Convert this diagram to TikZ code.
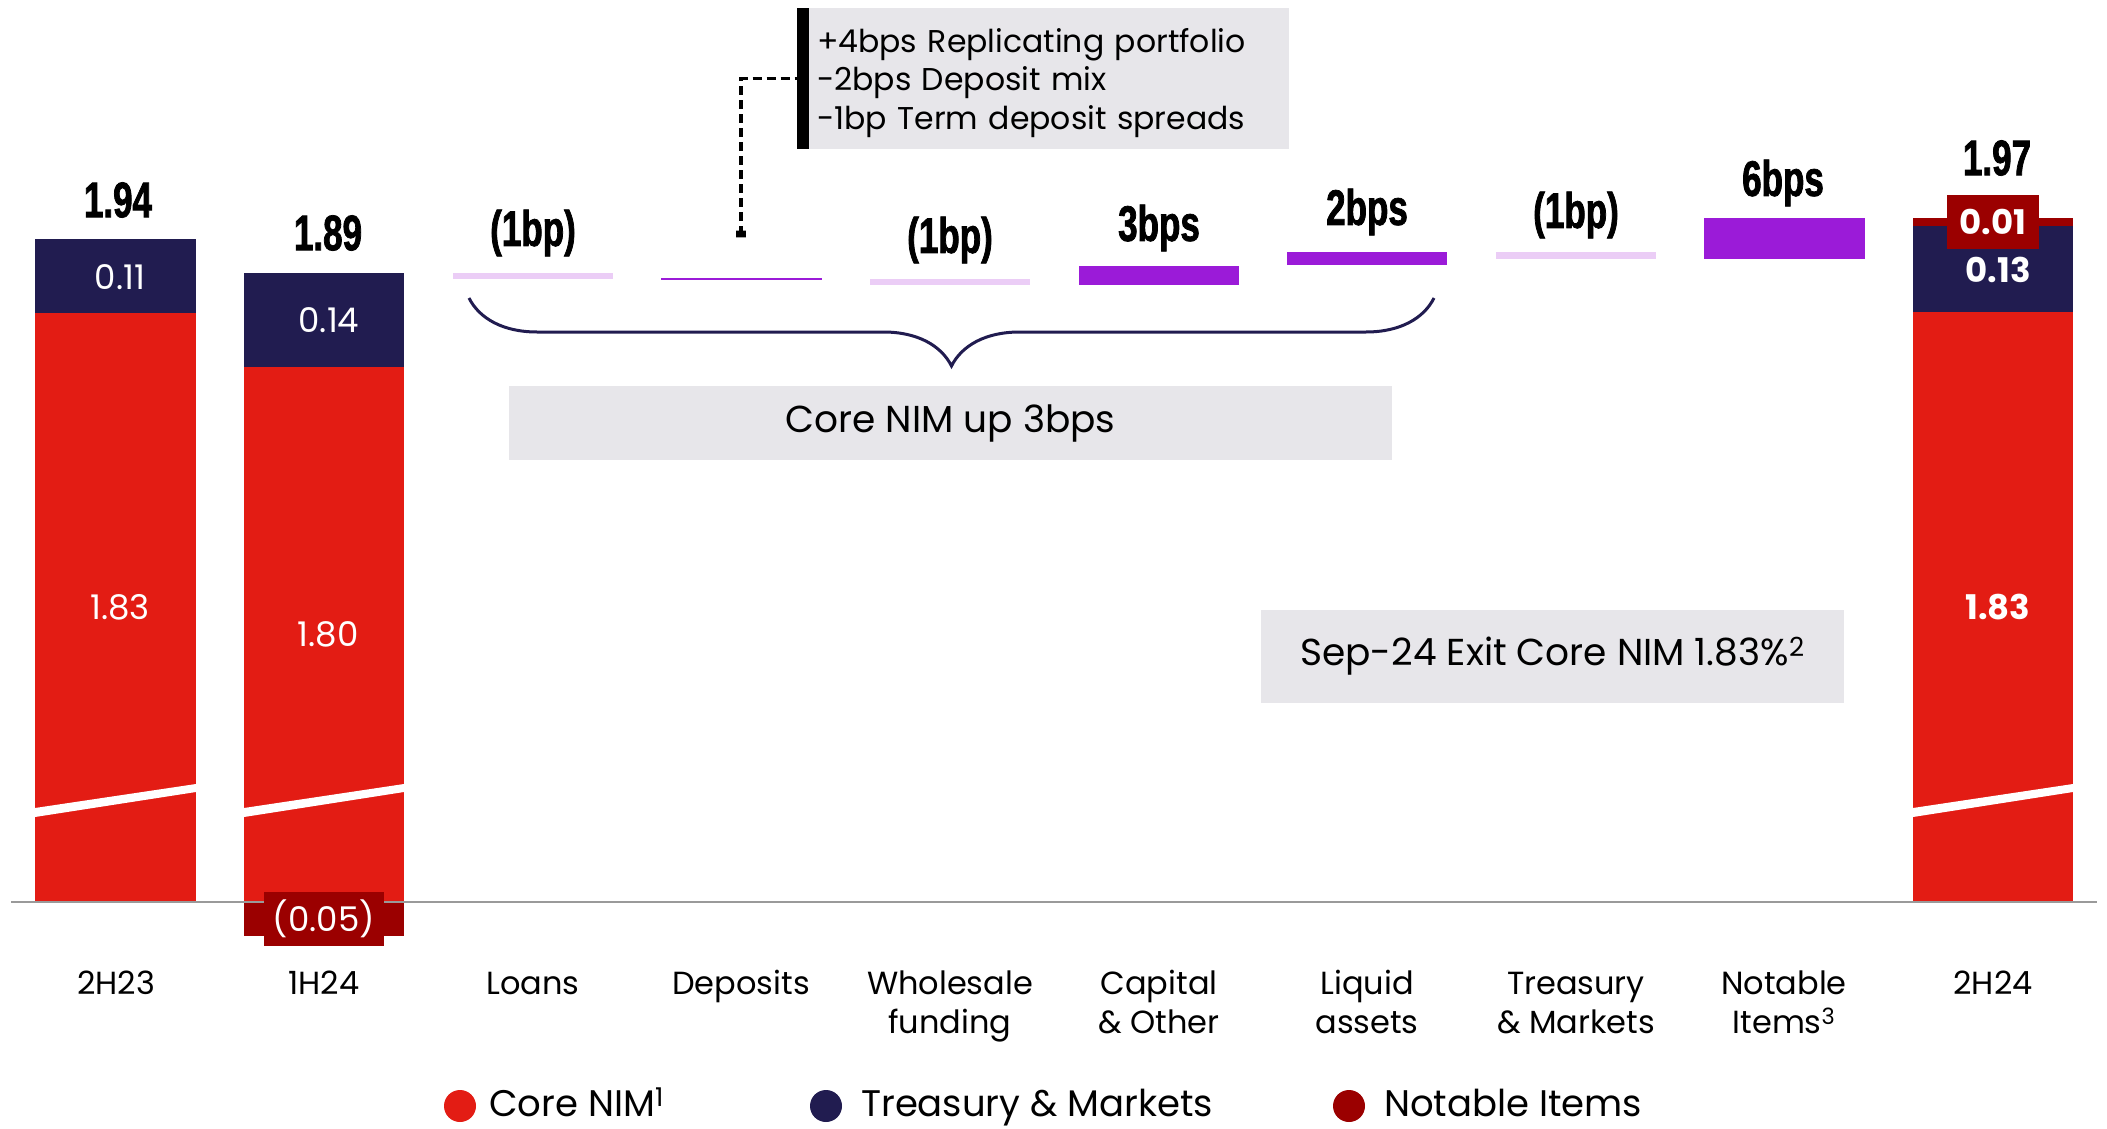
\documentclass[tikz,border=0pt]{standalone}
\usepackage{fontspec}
\setmainfont{Poppins}
\newfontfamily\condfont[FakeStretch=0.7, FakeBold=1.5]{Liberation Sans}
\usetikzlibrary{decorations.pathreplacing}
\definecolor{corered}{HTML}{E31C14}
\definecolor{tmnavy}{HTML}{211C50}
\definecolor{notred}{HTML}{9B0000}
\definecolor{upurple}{HTML}{9B1BD8}
\definecolor{lavender}{HTML}{EBCDF6}
\definecolor{boxgray}{HTML}{E7E6EA}
\definecolor{axisgray}{HTML}{9A9A9A}
\tikzset{
  total/.style={inner sep=0, font=\condfont\bfseries\fontsize{50}{50}\selectfont},
  seglab/.style={inner sep=0, text=white, font=\fontsize{34}{34}\selectfont},
  seglabb/.style={inner sep=0, text=white, font=\bfseries\fontsize{34}{34}\selectfont},
  catlab/.style={inner sep=0, anchor=north, align=center, font=\fontsize{32}{39}\selectfont},
  graybox/.style={fill=boxgray, inner sep=0},
  legdot/.style={circle, inner sep=0, minimum size=32},
  legtxt/.style={inner sep=0, anchor=base west, font=\fontsize{37}{37}\selectfont},
  notebox/.style={fill=notred, text=white, inner sep=0, minimum height=54},
  stripe/.style={fill=white},
}
\begin{document}
\begin{tikzpicture}[x=1pt,y=-1pt]
\useasboundingbox[fill=white] (0,0) rectangle (2107,1129);

% ---- 2H23 bar
\fill[corered] (35,313) rectangle (196,902);
\fill[tmnavy] (35,239) rectangle (196,313);
\fill[stripe] (35,808) -- (196,784) -- (196,792) -- (35,817) -- cycle;
% ---- 1H24 bar
\fill[corered] (244,367) rectangle (404,902);
\fill[tmnavy] (244,273) rectangle (404,367);
\fill[notred] (244,902) rectangle (404,936);
\fill[stripe] (244,808) -- (404,784) -- (404,792) -- (244,817) -- cycle;
% ---- 2H24 bar
\fill[corered] (1913,312) rectangle (2073,902);
\fill[tmnavy] (1913,226) rectangle (2073,312);
\fill[notred] (1913,218) rectangle (2073,226);
\fill[stripe] (1913,808) -- (2073,784) -- (2073,792) -- (1913,817) -- cycle;

% ---- movement bars
\fill[lavender] (453,273) rectangle (613,279);
\fill[upurple] (661,278) rectangle (822,280);
\fill[lavender] (870,279) rectangle (1030,285);
\fill[upurple] (1079,266) rectangle (1239,285);
\fill[upurple] (1287,252) rectangle (1447,265);
\fill[lavender] (1496,252) rectangle (1656,259);
\fill[upurple] (1704,218) rectangle (1865,259);

% ---- axis
\draw[axisgray, line width=2.5] (11,902) -- (2097,902);

% ---- totals
\node[total] (t2h23) at (118,200) {1.94};
\node[total] (t1h24) at (328,233) {1.89};
\node[total] (tloans) at (533,233) {(1bp)};
\node[total] (tdep) at (741,239) {-};
\node[total] (twhole) at (950,240) {(1bp)};
\node[total] (tcap) at (1159,228) {3bps};
\node[total] (tliq) at (1367,212) {2bps};
\node[total] (ttm) at (1576,215) {(1bp)};
\node[total] (tnot) at (1783,183) {6bps};
\node[total] (t2h24) at (1997,158) {1.97};

% ---- segment labels
\node[seglab] (s1) at (120,277) {0.11};
\node[seglab] (s2) at (120,607) {1.83};
\node[seglab] (s3) at (329,320) {0.14};
\node[seglab] (s4) at (328,634) {1.80};
\node[notebox, minimum width=120, font=\fontsize{34}{34}\selectfont] (s5) at (324,919) {(0.05)};
\node[notebox, minimum width=92, font=\bfseries\fontsize{34}{34}\selectfont] (s6) at (1993,222) {0.01};
\node[seglabb] (s7) at (1998,270) {0.13};
\node[seglabb] (s8) at (1998,607) {1.83};

% ---- callout
\node[graybox, minimum width=492, minimum height=141] (callout) at (1043,78.5) {};
\fill[black] (callout.north west) rectangle ([xshift=12]callout.south west);
\node[inner sep=0, text width=452, align=left, font=\fontsize{31.5}{38.5}\selectfont]
  (callouttext) at (1043,83) {+4bps Replicating portfolio\\-2bps Deposit mix\\-1bp Term deposit spreads};
\draw[line width=3.5, dash pattern=on 9pt off 5pt] ([yshift=-4]tdep.north) |- (callout.west);

% ---- brace
\draw[tmnavy, line width=3, decorate, decoration={brace, mirror, amplitude=68}] (469,298) -- (1434,298);
\node[graybox, minimum width=883, minimum height=74, font=\fontsize{37.5}{37.5}\selectfont] (coreup) at (950.5,423) {Core NIM up 3bps};
\node[graybox, minimum width=583, minimum height=93, font=\fontsize{37.5}{37.5}\selectfont] (exit) at (1552.5,656.5) {Sep-24 Exit Core NIM 1.83\%\textsuperscript{2}};

% ---- category labels
\node[catlab] (c1) at (116,967) {\strut 2H23};
\node[catlab] (c2) at (324,967) {\strut 1H24};
\node[catlab] (c3) at (533,967) {\strut Loans};
\node[catlab] (c4) at (741,967) {\strut Deposits};
\node[catlab] (c5) at (950,967) {\strut Wholesale\\funding};
\node[catlab] (c6) at (1159,967) {\strut Capital\\\& Other};
\node[catlab] (c7) at (1367,967) {\strut Liquid\\assets};
\node[catlab] (c8) at (1576,967) {\strut Treasury\\\& Markets};
\node[catlab] (c9) at (1784,967) {\strut Notable\\Items\textsuperscript{3}};
\node[catlab] (c10) at (1993,967) {\strut 2H24};

% ---- legend
\node[legdot, fill=corered] (l1) at (460,1106) {};
\node[legtxt] (l1t) at (489,1116) {Core NIM\textsuperscript{1}};
\node[legdot, fill=tmnavy] (l2) at (826,1106) {};
\node[legtxt] (l2t) at (861,1116) {Treasury \& Markets};
\node[legdot, fill=notred] (l3) at (1349,1106) {};
\node[legtxt] (l3t) at (1384,1116) {Notable Items};
\end{tikzpicture}
\end{document}
